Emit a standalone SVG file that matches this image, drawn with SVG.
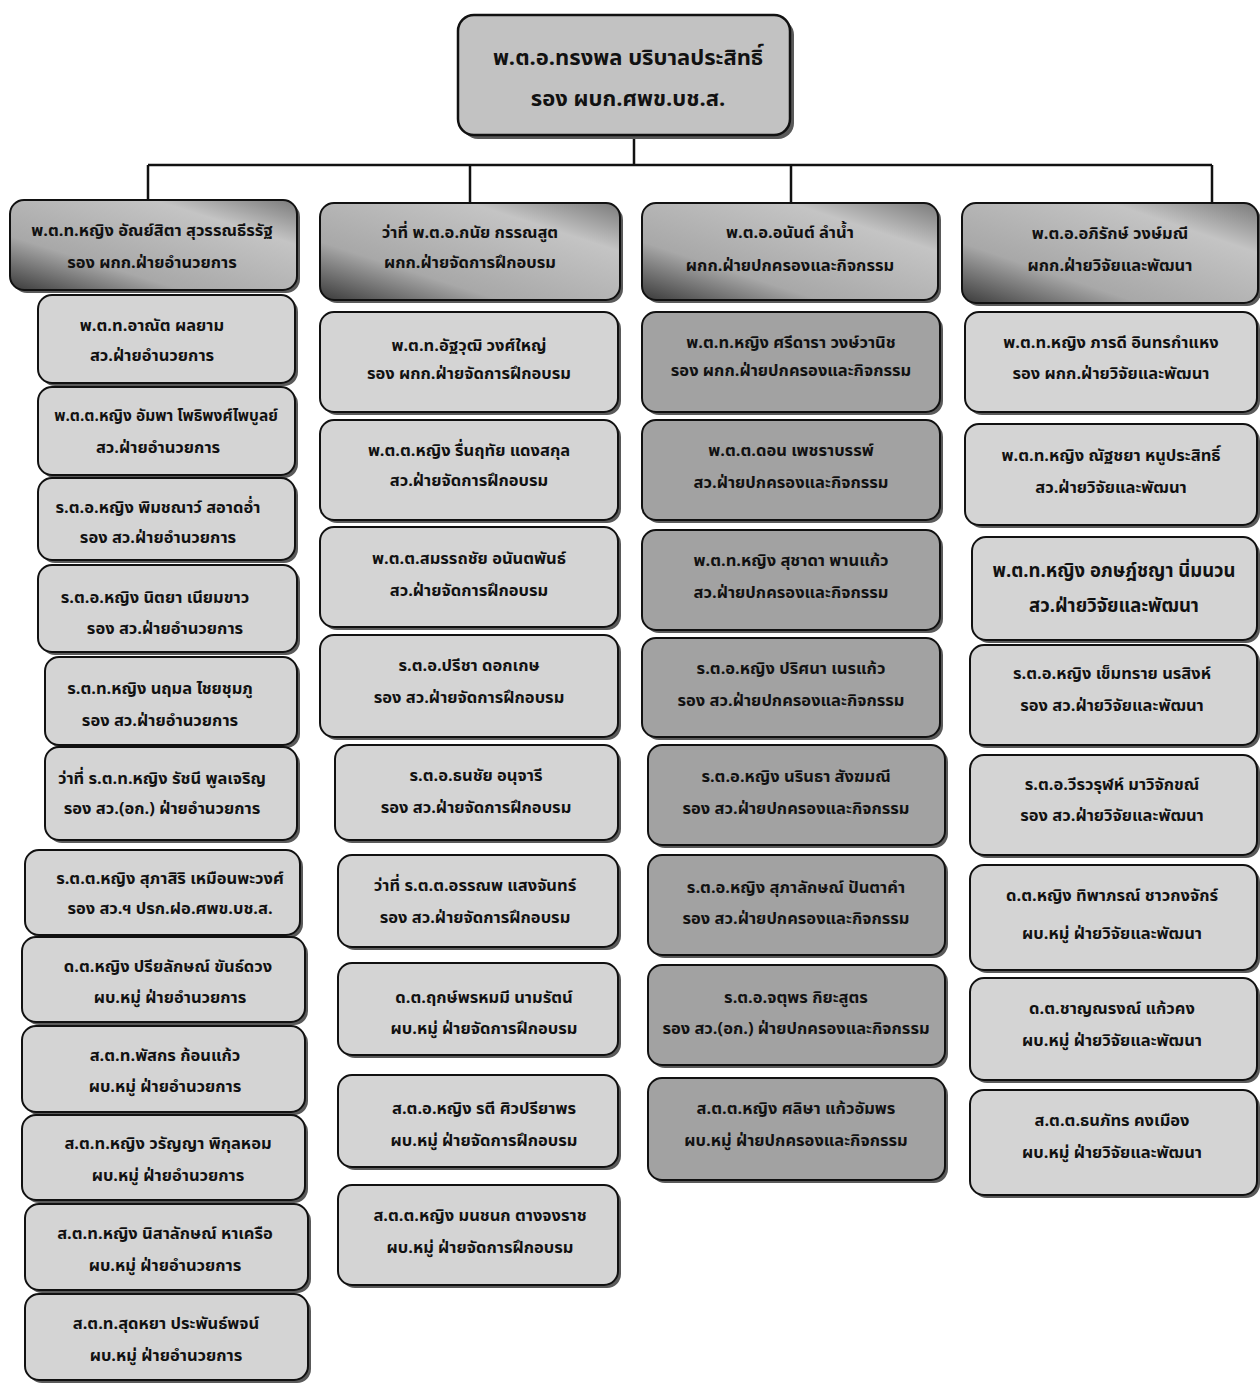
<svg xmlns="http://www.w3.org/2000/svg" width="1260" height="1385" viewBox="0 0 1260 1385">
<defs>
<linearGradient id="hg" x1="0" y1="1" x2="1" y2="0">
<stop offset="0" stop-color="#3a3a3a"/>
<stop offset="0.3" stop-color="#a8a8a8"/>
<stop offset="0.75" stop-color="#c4c4c4"/>
<stop offset="1" stop-color="#7a7a7a"/>
</linearGradient>
<style>
.sh{fill:#5a5a5a}
.bx{fill:#d4d4d4;stroke:#111;stroke-width:2}
.dk{fill:#a2a2a2;stroke:#111;stroke-width:2}
.hd{fill:url(#hg);stroke:#111;stroke-width:2}
.tp{fill:#c2c2c2;stroke:#111;stroke-width:2.5}
text{font-family:"Noto Sans Thai","Tahoma","DejaVu Sans",sans-serif;font-weight:bold;font-size:16.5px;fill:#111;text-anchor:middle}
.big{font-size:22px}
.con{fill:none;stroke:#111;stroke-width:2.5}
</style>
</defs>
<rect width="1260" height="1385" fill="#fff"/>
<g id="connectors">
<path class="con" d="M634 135V165M148 165H1212M148 165V203M470 165V203M791 165V203M1212 165V203"/>
</g>
<g id="top"><rect class="sh" x="462" y="19" width="332" height="120" rx="16"/><rect class="tp" x="458" y="15" width="332" height="120" rx="16"/><text class="big" x="628" y="65">พ.ต.อ.ทรงพล บริบาลประสิทธิ์</text><text class="big" x="628" y="106">รอง ผบก.ศพข.บช.ส.</text></g>

<g id="h1"><rect class="sh" x="13" y="203" width="287" height="90" rx="14"/><rect class="hd" x="10" y="200" width="287" height="90" rx="14"/><text x="152" y="236">พ.ต.ท.หญิง อัณย์สิตา สุวรรณธีรรัฐ</text><text x="152" y="268">รอง ผกก.ฝ่ายอำนวยการ</text></g>
<g id="h2"><rect class="sh" x="323" y="206" width="300" height="97" rx="14"/><rect class="hd" x="320" y="203" width="300" height="97" rx="14"/><text x="470" y="238">ว่าที่ พ.ต.อ.กนัย กรรณสูต</text><text x="470" y="268">ผกก.ฝ่ายจัดการฝึกอบรม</text></g>
<g id="h3"><rect class="sh" x="645" y="206" width="296" height="97" rx="14"/><rect class="hd" x="642" y="203" width="296" height="97" rx="14"/><text x="790" y="238">พ.ต.อ.อนันต์ ลำน้ำ</text><text x="790" y="271">ผกก.ฝ่ายปกครองและกิจกรรม</text></g>
<g id="h4"><rect class="sh" x="965" y="206" width="296" height="100" rx="14"/><rect class="hd" x="962" y="203" width="296" height="100" rx="14"/><text x="1110" y="239">พ.ต.อ.อภิรักษ์ วงษ์มณี</text><text x="1110" y="271">ผกก.ฝ่ายวิจัยและพัฒนา</text></g>

<g id="c1n1"><rect class="sh" x="41" y="298" width="257" height="88" rx="14"/><rect class="bx" x="38" y="295" width="257" height="88" rx="14"/><text x="152" y="331">พ.ต.ท.อาณัต ผลยาม</text><text x="152" y="361">สว.ฝ่ายอำนวยการ</text></g>
<g id="c1n2"><rect class="sh" x="41" y="390" width="257" height="88" rx="14"/><rect class="bx" x="38" y="387" width="257" height="88" rx="14"/><text x="166" y="421" style="font-size:15.5px">พ.ต.ต.หญิง อัมพา โพธิพงศ์ไพบูลย์</text><text x="158" y="453">สว.ฝ่ายอำนวยการ</text></g>
<g id="c1n3"><rect class="sh" x="41" y="481" width="257" height="82" rx="14"/><rect class="bx" x="38" y="478" width="257" height="82" rx="14"/><text x="158" y="513">ร.ต.อ.หญิง พิมชณาว์ สอาดอ่ำ</text><text x="158" y="543">รอง สว.ฝ่ายอำนวยการ</text></g>
<g id="c1n4"><rect class="sh" x="41" y="568" width="259" height="87" rx="14"/><rect class="bx" x="38" y="565" width="259" height="87" rx="14"/><text x="155" y="603">ร.ต.อ.หญิง นิตยา เนียมขาว</text><text x="165" y="634">รอง สว.ฝ่ายอำนวยการ</text></g>
<g id="c1n5"><rect class="sh" x="48" y="660" width="252" height="88" rx="14"/><rect class="bx" x="45" y="657" width="252" height="88" rx="14"/><text x="160" y="694">ร.ต.ท.หญิง นฤมล ไชยชุมภู</text><text x="160" y="726">รอง สว.ฝ่ายอำนวยการ</text></g>
<g id="c1n6"><rect class="sh" x="48" y="750" width="252" height="93" rx="14"/><rect class="bx" x="45" y="747" width="252" height="93" rx="14"/><text x="162" y="784">ว่าที่ ร.ต.ท.หญิง รัชนี พูลเจริญ</text><text x="162" y="814">รอง สว.(อก.) ฝ่ายอำนวยการ</text></g>
<g id="c1n7"><rect class="sh" x="28" y="853" width="275" height="85" rx="14"/><rect class="bx" x="25" y="850" width="275" height="85" rx="14"/><text x="170" y="884">ร.ต.ต.หญิง สุภาสิริ เหมือนพะวงศ์</text><text x="170" y="914">รอง สว.ฯ ปรก.ฝอ.ศพข.บช.ส.</text></g>
<g id="c1n8"><rect class="sh" x="25" y="940" width="283" height="85" rx="14"/><rect class="bx" x="22" y="937" width="283" height="85" rx="14"/><text x="168" y="972">ด.ต.หญิง ปรียลักษณ์ ขันธ์ดวง</text><text x="170" y="1003">ผบ.หมู่ ฝ่ายอำนวยการ</text></g>
<g id="c1n9"><rect class="sh" x="25" y="1029" width="283" height="86" rx="14"/><rect class="bx" x="22" y="1026" width="283" height="86" rx="14"/><text x="165" y="1061">ส.ต.ท.พัสกร ก้อนแก้ว</text><text x="165" y="1092">ผบ.หมู่ ฝ่ายอำนวยการ</text></g>
<g id="c1n10"><rect class="sh" x="25" y="1118" width="283" height="85" rx="14"/><rect class="bx" x="22" y="1115" width="283" height="85" rx="14"/><text x="168" y="1149">ส.ต.ท.หญิง วรัญญา พิกุลหอม</text><text x="168" y="1181">ผบ.หมู่ ฝ่ายอำนวยการ</text></g>
<g id="c1n11"><rect class="sh" x="28" y="1207" width="283" height="86" rx="14"/><rect class="bx" x="25" y="1204" width="283" height="86" rx="14"/><text x="165" y="1239">ส.ต.ท.หญิง นิสาลักษณ์ หาเครือ</text><text x="165" y="1271">ผบ.หมู่ ฝ่ายอำนวยการ</text></g>
<g id="c1n12"><rect class="sh" x="28" y="1297" width="283" height="86" rx="14"/><rect class="bx" x="25" y="1294" width="283" height="86" rx="14"/><text x="166" y="1329">ส.ต.ท.สุดหยา ประพันธ์พจน์</text><text x="166" y="1361">ผบ.หมู่ ฝ่ายอำนวยการ</text></g>

<g id="c2n1"><rect class="sh" x="323" y="315" width="298" height="100" rx="14"/><rect class="bx" x="320" y="312" width="298" height="100" rx="14"/><text x="469" y="351">พ.ต.ท.อัฐวุฒิ วงศ์ใหญ่</text><text x="469" y="379">รอง ผกก.ฝ่ายจัดการฝึกอบรม</text></g>
<g id="c2n2"><rect class="sh" x="323" y="423" width="298" height="100" rx="14"/><rect class="bx" x="320" y="420" width="298" height="100" rx="14"/><text x="469" y="456">พ.ต.ต.หญิง รื่นฤทัย แดงสกุล</text><text x="469" y="486">สว.ฝ่ายจัดการฝึกอบรม</text></g>
<g id="c2n3"><rect class="sh" x="323" y="530" width="298" height="100" rx="14"/><rect class="bx" x="320" y="527" width="298" height="100" rx="14"/><text x="469" y="564">พ.ต.ต.สมรรถชัย อนันตพันธ์</text><text x="469" y="596">สว.ฝ่ายจัดการฝึกอบรม</text></g>
<g id="c2n4"><rect class="sh" x="323" y="638" width="298" height="102" rx="14"/><rect class="bx" x="320" y="635" width="298" height="102" rx="14"/><text x="469" y="671">ร.ต.อ.ปรีชา ดอกเกษ</text><text x="469" y="703">รอง สว.ฝ่ายจัดการฝึกอบรม</text></g>
<g id="c2n5"><rect class="sh" x="338" y="748" width="283" height="95" rx="14"/><rect class="bx" x="335" y="745" width="283" height="95" rx="14"/><text x="476" y="781">ร.ต.อ.ธนชัย อนุจารี</text><text x="476" y="813">รอง สว.ฝ่ายจัดการฝึกอบรม</text></g>
<g id="c2n6"><rect class="sh" x="341" y="858" width="280" height="92" rx="14"/><rect class="bx" x="338" y="855" width="280" height="92" rx="14"/><text x="475" y="891">ว่าที่ ร.ต.ต.อรรณพ แสงจันทร์</text><text x="475" y="923">รอง สว.ฝ่ายจัดการฝึกอบรม</text></g>
<g id="c2n7"><rect class="sh" x="341" y="966" width="280" height="92" rx="14"/><rect class="bx" x="338" y="963" width="280" height="92" rx="14"/><text x="484" y="1003">ด.ต.ฤกษ์พรหมมี นามรัตน์</text><text x="484" y="1034">ผบ.หมู่ ฝ่ายจัดการฝึกอบรม</text></g>
<g id="c2n8"><rect class="sh" x="341" y="1078" width="280" height="92" rx="14"/><rect class="bx" x="338" y="1075" width="280" height="92" rx="14"/><text x="484" y="1114">ส.ต.อ.หญิง รตี ศิวปรียาพร</text><text x="484" y="1146">ผบ.หมู่ ฝ่ายจัดการฝึกอบรม</text></g>
<g id="c2n9"><rect class="sh" x="341" y="1188" width="280" height="100" rx="14"/><rect class="bx" x="338" y="1185" width="280" height="100" rx="14"/><text x="480" y="1221">ส.ต.ต.หญิง มนชนก ตางจงราช</text><text x="480" y="1253">ผบ.หมู่ ฝ่ายจัดการฝึกอบรม</text></g>

<g id="c3n1"><rect class="sh" x="645" y="315" width="298" height="100" rx="14"/><rect class="dk" x="642" y="312" width="298" height="100" rx="14"/><text x="791" y="348">พ.ต.ท.หญิง ศรีดารา วงษ์วานิช</text><text x="791" y="376">รอง ผกก.ฝ่ายปกครองและกิจกรรม</text></g>
<g id="c3n2"><rect class="sh" x="645" y="423" width="298" height="100" rx="14"/><rect class="dk" x="642" y="420" width="298" height="100" rx="14"/><text x="791" y="456">พ.ต.ต.ดอน เพชราบรรพ์</text><text x="791" y="488">สว.ฝ่ายปกครองและกิจกรรม</text></g>
<g id="c3n3"><rect class="sh" x="645" y="533" width="298" height="100" rx="14"/><rect class="dk" x="642" y="530" width="298" height="100" rx="14"/><text x="791" y="566">พ.ต.ท.หญิง สุชาดา พานแก้ว</text><text x="791" y="598">สว.ฝ่ายปกครองและกิจกรรม</text></g>
<g id="c3n4"><rect class="sh" x="645" y="641" width="298" height="99" rx="14"/><rect class="dk" x="642" y="638" width="298" height="99" rx="14"/><text x="791" y="674">ร.ต.อ.หญิง ปริศนา เนรแก้ว</text><text x="791" y="706">รอง สว.ฝ่ายปกครองและกิจกรรม</text></g>
<g id="c3n5"><rect class="sh" x="651" y="748" width="297" height="100" rx="14"/><rect class="dk" x="648" y="745" width="297" height="100" rx="14"/><text x="796" y="782">ร.ต.อ.หญิง นรินธา สังฆมณี</text><text x="796" y="814">รอง สว.ฝ่ายปกครองและกิจกรรม</text></g>
<g id="c3n6"><rect class="sh" x="651" y="858" width="297" height="100" rx="14"/><rect class="dk" x="648" y="855" width="297" height="100" rx="14"/><text x="796" y="893">ร.ต.อ.หญิง สุภาลักษณ์ ปันตาคำ</text><text x="796" y="924">รอง สว.ฝ่ายปกครองและกิจกรรม</text></g>
<g id="c3n7"><rect class="sh" x="651" y="968" width="297" height="100" rx="14"/><rect class="dk" x="648" y="965" width="297" height="100" rx="14"/><text x="796" y="1003">ร.ต.อ.จตุพร กิยะสูตร</text><text x="796" y="1034">รอง สว.(อก.) ฝ่ายปกครองและกิจกรรม</text></g>
<g id="c3n8"><rect class="sh" x="651" y="1081" width="297" height="102" rx="14"/><rect class="dk" x="648" y="1078" width="297" height="102" rx="14"/><text x="796" y="1114">ส.ต.ต.หญิง ศลิษา แก้วอัมพร</text><text x="796" y="1146">ผบ.หมู่ ฝ่ายปกครองและกิจกรรม</text></g>

<g id="c4n1"><rect class="sh" x="968" y="315" width="292" height="100" rx="14"/><rect class="bx" x="965" y="312" width="292" height="100" rx="14"/><text x="1111" y="348">พ.ต.ท.หญิง ภารดี อินทรกำแหง</text><text x="1111" y="379">รอง ผกก.ฝ่ายวิจัยและพัฒนา</text></g>
<g id="c4n2"><rect class="sh" x="968" y="427" width="292" height="101" rx="14"/><rect class="bx" x="965" y="424" width="292" height="101" rx="14"/><text x="1111" y="461">พ.ต.ท.หญิง ณัฐชยา หนูประสิทธิ์</text><text x="1111" y="493">สว.ฝ่ายวิจัยและพัฒนา</text></g>
<g id="c4n3"><rect class="sh" x="975" y="540" width="285" height="103" rx="14"/><rect class="bx" x="972" y="537" width="285" height="103" rx="14"/><text x="1114" y="577" style="font-size:18.5px">พ.ต.ท.หญิง อภษฎ์ชญา นิ่มนวน</text><text x="1114" y="612" style="font-size:18.5px">สว.ฝ่ายวิจัยและพัฒนา</text></g>
<g id="c4n4"><rect class="sh" x="973" y="648" width="287" height="100" rx="14"/><rect class="bx" x="970" y="645" width="287" height="100" rx="14"/><text x="1112" y="679">ร.ต.อ.หญิง เข็มทราย นรสิงห์</text><text x="1112" y="711">รอง สว.ฝ่ายวิจัยและพัฒนา</text></g>
<g id="c4n5"><rect class="sh" x="973" y="758" width="287" height="100" rx="14"/><rect class="bx" x="970" y="755" width="287" height="100" rx="14"/><text x="1112" y="790">ร.ต.อ.วีรวรุฬห์ มาวิจักขณ์</text><text x="1112" y="821">รอง สว.ฝ่ายวิจัยและพัฒนา</text></g>
<g id="c4n6"><rect class="sh" x="973" y="868" width="287" height="105" rx="14"/><rect class="bx" x="970" y="865" width="287" height="105" rx="14"/><text x="1112" y="901">ด.ต.หญิง ทิพาภรณ์ ชาวกงจักร์</text><text x="1112" y="939">ผบ.หมู่ ฝ่ายวิจัยและพัฒนา</text></g>
<g id="c4n7"><rect class="sh" x="973" y="981" width="287" height="102" rx="14"/><rect class="bx" x="970" y="978" width="287" height="102" rx="14"/><text x="1112" y="1014">ด.ต.ชาญณรงณ์ แก้วคง</text><text x="1112" y="1046">ผบ.หมู่ ฝ่ายวิจัยและพัฒนา</text></g>
<g id="c4n8"><rect class="sh" x="973" y="1093" width="287" height="105" rx="14"/><rect class="bx" x="970" y="1090" width="287" height="105" rx="14"/><text x="1112" y="1126">ส.ต.ต.ธนภัทร คงเมือง</text><text x="1112" y="1158">ผบ.หมู่ ฝ่ายวิจัยและพัฒนา</text></g>
</svg>
